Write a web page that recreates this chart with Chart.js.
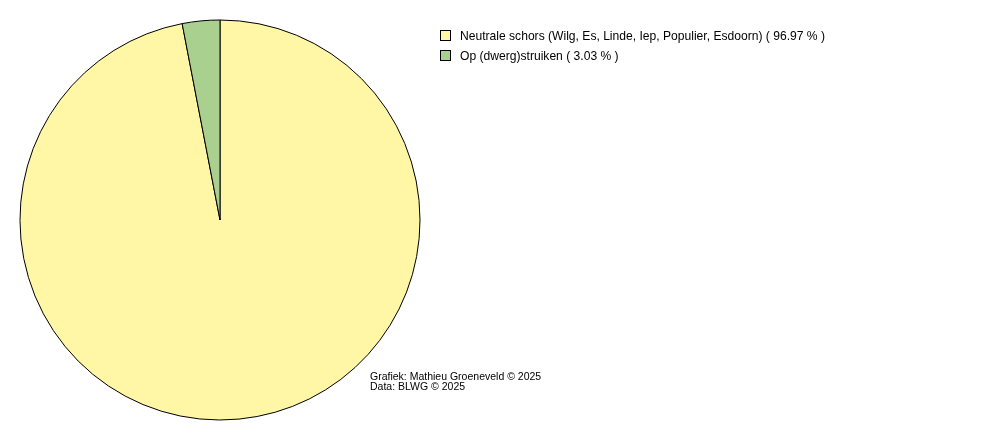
<!DOCTYPE html>
<html><head><meta charset="utf-8">
<script src="https://cdn.jsdelivr.net/npm/chart.js@4"></script>
<style>html,body{margin:0;padding:0;background:#fff}#wrap{width:1000px;height:440px;position:relative}</style>
</head><body><div id="wrap"><canvas id="c" width="1000" height="440"></canvas></div>
<script>
const categories = ["Neutrale schors (Wilg, Es, Linde, Iep, Populier, Esdoorn)", "Op (dwerg)struiken"];
const values = [96.97, 3.03];
const colors = ["#FFF7A5", "#AAD090"];
const credits = ["Grafiek: Mathieu Groeneveld © 2025", "Data: BLWG © 2025"];

const overlay = {
  id: 'overlay',
  afterDraw(chart) {
    const ctx = chart.ctx;
    ctx.save();
    ctx.font = '12.1px "Liberation Sans", Arial, sans-serif';
    ctx.textBaseline = 'middle';
    ctx.textAlign = 'left';
    chart.data.labels.forEach((lab, i) => {
      const y = 37 + i * 20;
      ctx.fillStyle = colors[i];
      ctx.fillRect(440.5, y - 6.5, 10, 10);
      ctx.strokeStyle = '#000';
      ctx.lineWidth = 1;
      ctx.strokeRect(440.5, y - 6.5, 10, 10);
      ctx.fillStyle = '#000';
      ctx.fillText(lab + ' ( ' + values[i].toFixed(2) + ' % )', 460, y);
    });
    ctx.font = '10.5px "Liberation Sans", Arial, sans-serif';
    credits.forEach((t, i) => ctx.fillText(t, 370, 377 + i * 10));
    ctx.restore();
  }
};

new Chart(document.getElementById('c'), {
  type: 'pie',
  data: { labels: categories, datasets: [{ data: values, backgroundColor: colors, borderColor: '#000', borderWidth: 1, hoverOffset: 0 }] },
  options: {
    responsive: false, animation: false, events: [],
    radius: 200,
    layout: { padding: { left: 20, right: 580, top: 20, bottom: 20 } },
    plugins: { legend: { display: false }, tooltip: { enabled: false } }
  },
  plugins: [overlay]
});
</script></body></html>
